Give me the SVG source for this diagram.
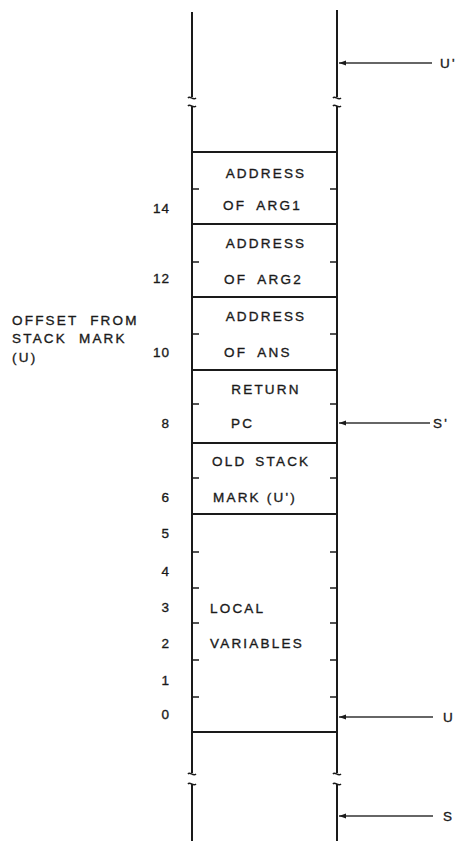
<svg xmlns="http://www.w3.org/2000/svg" width="457" height="841" viewBox="0 0 457 841">
<style>
  .ln{stroke:#1a1a1a;stroke-width:2;fill:none}
  .tk{stroke:#1a1a1a;stroke-width:1.5;fill:none}
  .ar{stroke:#333;stroke-width:1.3;fill:none}
  .t{font-family:"Liberation Sans",Arial,sans-serif;font-size:13.5px;fill:#1a1a1a;stroke:#1a1a1a;stroke-width:0.35;letter-spacing:2.2px}
  .n{font-family:"Liberation Sans",Arial,sans-serif;font-size:13.5px;fill:#1a1a1a;stroke:#1a1a1a;stroke-width:0.35;text-anchor:end;letter-spacing:1px}
</style>
<defs>
  <marker id="ah" markerWidth="8" markerHeight="6" refX="7" refY="3" orient="auto" markerUnits="userSpaceOnUse">
    <path d="M0,0.5 L7,3 L0,5.5 Z" fill="#1a1a1a"/>
  </marker>
</defs>
<g id="stack-frame">
  <line class="ln" x1="192" y1="12" x2="192" y2="97"/>
  <line class="ln" x1="337" y1="10" x2="337" y2="97"/>
  <path class="tk" d="M188,98 c2,-3 5,3 8,0"/>
  <path class="tk" d="M333,98 c2,-3 5,3 8,0"/>
  <path class="tk" d="M188,106 c2,-3 5,3 8,0"/>
  <path class="tk" d="M333,106 c2,-3 5,3 8,0"/>
  <line class="ln" x1="192" y1="106" x2="192" y2="773"/>
  <line class="ln" x1="337" y1="106" x2="337" y2="773"/>
  <path class="tk" d="M188,774 c2,-3 5,3 8,0"/>
  <path class="tk" d="M333,774 c2,-3 5,3 8,0"/>
  <path class="tk" d="M188,784 c2,-3 5,3 8,0"/>
  <path class="tk" d="M333,784 c2,-3 5,3 8,0"/>
  <line class="ln" x1="192" y1="784" x2="192" y2="841"/>
  <line class="ln" x1="337" y1="784" x2="337" y2="841"/>
</g>
<g id="cell-arg1">
  <line class="ln" x1="192" y1="152" x2="337" y2="152"/>
  <line class="tk" x1="192" y1="189" x2="199" y2="189"/>
  <line class="tk" x1="330" y1="189" x2="337" y2="189"/>
  <text class="t" x="266" y="178" text-anchor="middle">ADDRESS</text>
  <text class="t" x="223" y="210" word-spacing="5">OF ARG1</text>
</g>
<g id="cell-arg2">
  <line class="ln" x1="192" y1="224" x2="337" y2="224"/>
  <line class="tk" x1="192" y1="262" x2="199" y2="262"/>
  <line class="tk" x1="330" y1="262" x2="337" y2="262"/>
  <text class="t" x="266" y="248" text-anchor="middle">ADDRESS</text>
  <text class="t" x="224" y="284" word-spacing="5">OF ARG2</text>
</g>
<g id="cell-ans">
  <line class="ln" x1="192" y1="297" x2="337" y2="297"/>
  <line class="tk" x1="192" y1="334" x2="199" y2="334"/>
  <line class="tk" x1="330" y1="334" x2="337" y2="334"/>
  <text class="t" x="266" y="321" text-anchor="middle">ADDRESS</text>
  <text class="t" x="224" y="357" word-spacing="5">OF ANS</text>
</g>
<g id="cell-pc">
  <line class="ln" x1="192" y1="370" x2="337" y2="370"/>
  <line class="tk" x1="192" y1="404" x2="199" y2="404"/>
  <line class="tk" x1="330" y1="404" x2="337" y2="404"/>
  <text class="t" x="266" y="394" text-anchor="middle">RETURN</text>
  <text class="t" x="231" y="428">PC</text>
</g>
<g id="cell-oldmark">
  <line class="ln" x1="192" y1="443" x2="337" y2="443"/>
  <line class="tk" x1="192" y1="478" x2="199" y2="478"/>
  <line class="tk" x1="330" y1="478" x2="337" y2="478"/>
  <text class="t" x="212" y="466" word-spacing="3">OLD STACK</text>
  <text class="t" x="213" y="502">MARK (U')</text>
</g>
<g id="cell-locals">
  <line class="ln" x1="192" y1="514" x2="337" y2="514"/>
  <line class="tk" x1="192" y1="552" x2="199" y2="552"/>
  <line class="tk" x1="330" y1="552" x2="337" y2="552"/>
  <line class="tk" x1="192" y1="588" x2="199" y2="588"/>
  <line class="tk" x1="330" y1="588" x2="337" y2="588"/>
  <line class="tk" x1="192" y1="623" x2="199" y2="623"/>
  <line class="tk" x1="330" y1="623" x2="337" y2="623"/>
  <line class="tk" x1="192" y1="660" x2="199" y2="660"/>
  <line class="tk" x1="330" y1="660" x2="337" y2="660"/>
  <line class="tk" x1="192" y1="697" x2="199" y2="697"/>
  <line class="tk" x1="330" y1="697" x2="337" y2="697"/>
  <line class="ln" x1="192" y1="732" x2="337" y2="732"/>
  <text class="t" x="210" y="613">LOCAL</text>
  <text class="t" x="210" y="648">VARIABLES</text>
</g>
<g id="offsets">
  <text class="t" x="12" y="325" word-spacing="6">OFFSET FROM</text>
  <text class="t" x="12" y="343" word-spacing="6">STACK MARK</text>
  <text class="t" x="12" y="362">(U)</text>
  <text class="n" x="170" y="213">14</text>
  <text class="n" x="170" y="283">12</text>
  <text class="n" x="170" y="357">10</text>
  <text class="n" x="170" y="428">8</text>
  <text class="n" x="170" y="502">6</text>
  <text class="n" x="170" y="538">5</text>
  <text class="n" x="170" y="576">4</text>
  <text class="n" x="170" y="612">3</text>
  <text class="n" x="170" y="648">2</text>
  <text class="n" x="170" y="685">1</text>
  <text class="n" x="170" y="719">0</text>
</g>
<g id="connectors">
  <line class="ar" x1="432" y1="63" x2="339" y2="63" marker-end="url(#ah)"/>
  <line class="ar" x1="430" y1="423" x2="339" y2="423" marker-end="url(#ah)"/>
  <line class="ar" x1="433" y1="717" x2="339" y2="717" marker-end="url(#ah)"/>
  <line class="ar" x1="433" y1="816" x2="339" y2="816" marker-end="url(#ah)"/>
</g>
<g id="pointer-labels">
  <text class="t" x="440" y="68" letter-spacing="0">U'</text>
  <text class="t" x="433" y="428">S'</text>
  <text class="t" x="443" y="722">U</text>
  <text class="t" x="443" y="821">S</text>
</g>
</svg>
